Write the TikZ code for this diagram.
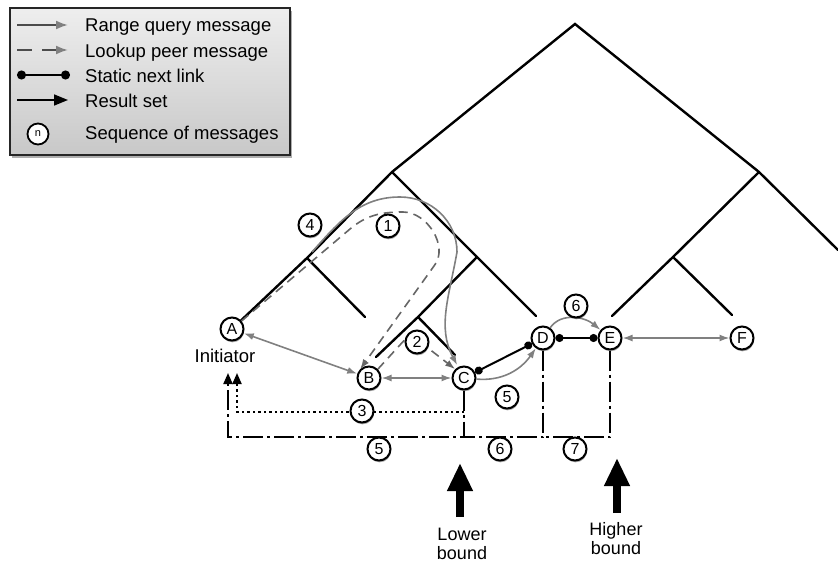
\documentclass[tikz,border=0pt]{standalone}
\usepackage{fontspec}
\setmainfont{Liberation Sans}
\usetikzlibrary{arrows.meta,shadows,calc}
\definecolor{rqgray}{HTML}{808080}
\definecolor{lkgray}{HTML}{666666}
\definecolor{legtop}{HTML}{EEEEEE}
\definecolor{legbot}{HTML}{C8C8C8}
\tikzset{
  tree/.style={line width=2.4pt, line cap=round},
  peer/.style={circle, draw, line width=2pt, fill=white, minimum size=23pt,
    inner sep=0pt, font=\fontsize{16}{16}\selectfont,
    drop shadow={shadow xshift=0.6pt, shadow yshift=-1.8pt, fill=black, opacity=0.35}},
  seqno/.style={peer},
  rq/.style={draw=rqgray, line width=1.6pt},
  rqtip/.style={-{Latex[length=10pt,width=7pt]}},
  rqboth/.style={{Latex[length=10pt,width=7pt]}-{Latex[length=10pt,width=7pt]}},
  lk/.style={draw=lkgray, line width=1.6pt, dash pattern=on 9pt off 6pt,
    -{Latex[length=10pt,width=7pt]}},
  nextlink/.style={line width=2pt, {Circle[length=8pt]}-{Circle[length=8pt]}},
  res/.style={line width=2pt, dash pattern=on 20pt off 4pt on 3pt off 4pt},
  resdot/.style={line width=2pt, dash pattern=on 2.5pt off 3pt},
  restip/.style={-{Triangle[length=11pt,width=9pt]}},
  lbl/.style={font=\fontsize{18.5}{20}\selectfont, inner sep=0pt},
  boundlbl/.style={font=\fontsize{18}{19}\selectfont, inner sep=0pt, align=center, anchor=north},
  bigarrow/.style={line width=8pt, -{Triangle[length=28pt,width=24pt]}},
}
\begin{document}
\begin{tikzpicture}[x=1pt,y=-1pt]
\useasboundingbox (0,0) rectangle (838,562);

% ---------- legend ----------
\path[drop shadow={shadow xshift=2pt, shadow yshift=-3pt, fill=black!70, opacity=.45},
      top color=legtop, bottom color=legbot, draw=black!85, line width=2pt]
  (10,8) rectangle (290,155);
\draw[line width=2pt, draw=black!70, -{Latex[length=12pt,width=9pt,color=rqgray]}] (17,25) -- (68,25);
\draw[line width=2pt, draw=black!70, dash pattern=on 15pt off 10pt, -{Latex[length=12pt,width=9pt,color=rqgray]}] (17,50) -- (68,50);
\draw[line width=2pt, {Circle[length=9pt]}-{Circle[length=9pt]}] (17,75) -- (70,75);
\draw[line width=1.6pt, -{Triangle[length=14pt,width=11pt]}] (17,100) -- (68,100);
\node[circle, draw, line width=1.8pt, fill=white, minimum size=21pt, inner sep=0pt,
      font=\fontsize{11}{11}\selectfont] (keyn) at (38,134) {n};
\node[lbl, anchor=base west] (k1) at (85,31) {Range query message};
\node[lbl, anchor=base west] (k2) at (85,57) {Lookup peer message};
\node[lbl, anchor=base west] (k3) at (85,82) {Static next link};
\node[lbl, anchor=base west] (k4) at (85,107) {Result set};
\node[lbl, anchor=base west] (k5) at (85,139) {Sequence of messages};

% ---------- tree outline ----------
\coordinate (root) at (575,24);
\coordinate (L) at (392,172);
\coordinate (R) at (759,172);
\coordinate (LL) at (307,258);
\coordinate (LR) at (477,257);
\coordinate (RL) at (673,257);
\coordinate (LRL) at (418,317);
\coordinate (Rend) at (838,250);
\coordinate (LLr) at (365,317);
\coordinate (LRr) at (536,316);
\coordinate (LRLl) at (376,357);
\coordinate (LRLr) at (455,355);
\coordinate (RLl) at (612,316);
\coordinate (RLr) at (732,315);

% ---------- peers ----------
\node[peer] (A) at (232,329) {A};
\node[peer] (B) at (369,378) {B};
\node[peer] (C) at (464,378) {C};
\node[peer] (D) at (543,338) {D};
\node[peer] (E) at (610,338) {E};
\node[peer] (F) at (742,338) {F};

\draw[tree] (A) -- (LL) -- (L) -- (root) -- (R) -- (Rend);
\draw[tree] (L) -- (LR) -- (LRr);
\draw[tree] (LL) -- (LLr);
\draw[tree] (LR) -- (LRL) -- (LRLl);
\draw[tree] (LRL) -- (LRLr);
\draw[tree] (R) -- (RL) -- (RLl);
\draw[tree] (RL) -- (RLr);

\node[lbl, anchor=base] (init) at (225,362) {Initiator};

% ---------- result set paths ----------
\coordinate (joinC) at (464,437);
\coordinate (joinD) at (543,437);
\coordinate (cornerL) at (228,437);
\coordinate (tipL) at (228,373);
\coordinate (dotC) at (464,412);
\coordinate (cornerR) at (237,412);
\coordinate (tipR) at (237,373);
\draw[res] (C.south) -- (joinC) -- (cornerL) -- ($(tipL)+(0,11)$);
\draw[restip, line width=2pt] ($(tipL)+(0,12)$) -- (tipL);
\draw[res] (D.south) |- (joinC);
\draw[res] (E.south) |- (joinD);
\draw[resdot] (dotC) -- (cornerR) -- ($(tipR)+(0,11)$);
\draw[restip, line width=2pt] ($(tipR)+(0,12)$) -- (tipR);

% ---------- static next links ----------
\draw[nextlink] (C) -- (D);
\draw[nextlink] (D) -- (E);

% ---------- range query messages ----------
\draw[rq, rqboth] (A) -- (B);
\draw[rq, rqboth] (B) -- (C);
\draw[rq, rqboth] (E) -- (F);
\draw[rq, rqtip] (C) to[out=-5, in=235] (D);
\draw[rq, rqtip] (D) to[out=55, in=140] (E);
\coordinate (c4) at (312,252);
\coordinate (c4top) at (400,197);
\coordinate (c4right) at (457,252);
\draw[rq, rqtip, shorten >=2pt] (c4) to[out=48, in=180] (c4top)
  to[out=0, in=90] (c4right) to[out=-100, in=118] (C);

% ---------- lookup peer messages ----------
\coordinate (q1) at (350,229);
\coordinate (q2) at (403,212);
\coordinate (q3) at (434,266);
\draw[lk] (A.40) -- (q1) to[out=40, in=180] (q2) to[out=0, in=51] (q3) -- (B.north west);
\coordinate (q4) at (410,334);
\draw[lk] (B.45) -- (q4) -- (C.135);

% ---------- sequence numbers ----------
\node[seqno] (s1) at (388,226) {1};
\node[seqno] (s4) at (310,225) {4};
\node[seqno] (s2) at (417,342) {2};
\node[seqno] (s3) at (362,411) {3};
\node[seqno] (s5a) at (379,449) {5};
\node[seqno] (s5b) at (507,397) {5};
\node[seqno] (s6a) at (576,306) {6};
\node[seqno] (s6b) at (500,449) {6};
\node[seqno] (s7) at (575,449) {7};

% ---------- range bounds ----------
\node[boundlbl] (low) at (462,528) {Lower\\bound};
\node[boundlbl] (high) at (616,522) {Higher\\bound};
\coordinate (lowbase) at (460,517);
\coordinate (lowtip) at (460,463);
\coordinate (highbase) at (617,513);
\coordinate (hightip) at (617,458);
\draw[bigarrow] (lowbase) -- (lowtip);
\draw[bigarrow] (highbase) -- (hightip);
\end{tikzpicture}
\end{document}
